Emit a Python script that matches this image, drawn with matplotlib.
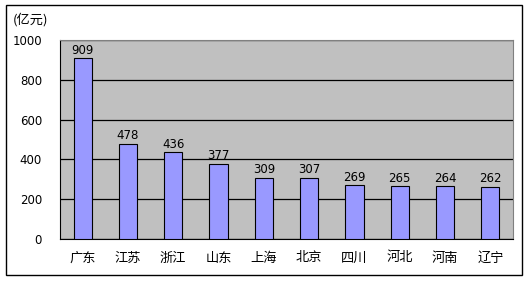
import matplotlib
matplotlib.use("Agg")
import matplotlib.pyplot as plt
from matplotlib.patches import Rectangle

plt.rcParams['font.family'] = ['Noto Sans CJK SC', 'DejaVu Sans']

categories = ["广东", "江苏", "浙江", "山东", "上海", "北京", "四川", "河北", "河南", "辽宁"]
values = [909, 478, 436, 377, 309, 307, 269, 265, 264, 262]
yticks = [0, 200, 400, 600, 800, 1000]

fig = plt.figure(figsize=(5.29, 2.81), dpi=100)
fig.patches.append(Rectangle((6/529, 1-275/281), 516/529, 270/281, transform=fig.transFigure,
                             fill=False, edgecolor='black', linewidth=1.0))
ax = fig.add_axes([60/529, 1-239/281, 453/529, 199/281])
ax.set_facecolor('#C0C0C0')
x = list(range(len(categories)))
bars = ax.bar(x, values, width=0.4, color='#9999FF', edgecolor='black', linewidth=0.8, zorder=3)
for xi, v in zip(x, values):
    ax.text(xi, v + 8, str(v), ha='center', va='bottom', fontsize=8.5, family='DejaVu Sans', zorder=4)
ax.set_ylim(0, 1000)
ax.set_xlim(-0.5, len(categories) - 0.5)
ax.set_yticks(yticks)
ax.set_yticklabels([str(t) for t in yticks], fontsize=8.5, family='DejaVu Sans')
ax.set_xticks(x)
ax.set_xticklabels(categories, fontsize=9.5)
ax.tick_params(axis='y', length=0, pad=13)
ax.tick_params(axis='x', length=0, pad=9)
ax.yaxis.grid(True, color='black', linewidth=0.9, zorder=1)
ax.set_axisbelow(True)
for s in ax.spines.values():
    s.set_color('#808080')
    s.set_linewidth(0.8)
ax.spines['bottom'].set_color('black')
ax.spines['left'].set_color('black')
fig.text(13/529, 1-20/281, "(亿元)", fontsize=9.5, ha='left', va='center')
fig.savefig("out.png", dpi=100)
